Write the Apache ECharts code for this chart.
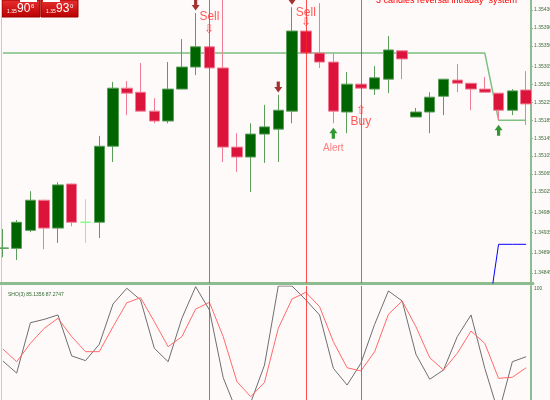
<!DOCTYPE html>
<html>
<head>
<meta charset="utf-8">
<script src="https://cdn.jsdelivr.net/npm/echarts@6/dist/echarts.min.js"></script>
<style>
  html, body { margin: 0; padding: 0; background: #fffafa; }
  #chart { width: 550px; height: 400px; }
</style>
</head>
<body>
<div id="chart"></div>
<script>
// bars (oldest -> newest), prices
const categories = ["1","2","3","4","5","6","7","8","9","10","11","12","13","14","15","16","17","18","19","20",
  "21","22","23","24","25","26","27","28","29","30","31","32","33","34","35","36","37","38","39"];
const opens = [1.34900, 1.34900, 1.34940, 1.35007, 1.34945, 1.35043, 1.34958, 1.34958, 1.35127, 1.35256,
  1.35247, 1.35205, 1.35183, 1.35254, 1.35303, 1.35348, 1.35301, 1.35125, 1.35103, 1.35154,
  1.35165, 1.35205, 1.35383, 1.35334, 1.35314, 1.35203, 1.35265, 1.35254, 1.35276, 1.35339,
  1.35192, 1.35203, 1.35238, 1.35274, 1.35267, 1.35254, 1.35245, 1.35207, 1.35252];
const closes = [1.34901, 1.34958, 1.35007, 1.34945, 1.35041, 1.34958, 1.34958, 1.35127, 1.35256, 1.35245,
  1.35205, 1.35183, 1.35254, 1.35303, 1.35348, 1.35301, 1.35125, 1.35103, 1.35154, 1.35170,
  1.35207, 1.35383, 1.35334, 1.35314, 1.35205, 1.35265, 1.35256, 1.35279, 1.35341, 1.35321,
  1.35203, 1.35236, 1.35276, 1.35267, 1.35254, 1.35247, 1.35207, 1.35250, 1.35221];
const lows = [1.34880, 1.34874, 1.34936, 1.34898, 1.34912, 1.34949, 1.34912, 1.34923, 1.35092, 1.35196,
  1.35205, 1.35178, 1.35178, 1.35254, 1.35285, 1.35301, 1.35092, 1.35070, 1.35025, 1.35090,
  1.35092, 1.35178, 1.35334, 1.35301, 1.35178, 1.35156, 1.35256, 1.35241, 1.35245, 1.35276,
  1.35192, 1.35156, 1.35196, 1.35247, 1.35207, 1.35247, 1.35185, 1.35196, 1.35174];
const highs = [1.34943, 1.34963, 1.35027, 1.35008, 1.35047, 1.35044, 1.35009, 1.35150, 1.35270, 1.35272,
  1.35312, 1.35234, 1.35314, 1.35365, 1.35423, 1.35348, 1.35460, 1.35156, 1.35178, 1.35219,
  1.35241, 1.35436, 1.35383, 1.35445, 1.35334, 1.35292, 1.35265, 1.35305, 1.35372, 1.35339,
  1.35212, 1.35247, 1.35276, 1.35310, 1.35267, 1.35281, 1.35245, 1.35254, 1.35294];

// level lines
const levelGreen = [1.35334, 1.35334, 1.35334, 1.35334, 1.35334, 1.35334, 1.35334, 1.35334, 1.35334, 1.35334,
  1.35334, 1.35334, 1.35334, 1.35334, 1.35334, 1.35334, 1.35334, 1.35334, 1.35334, 1.35334,
  1.35334, 1.35334, 1.35334, 1.35334, 1.35334, 1.35334, 1.35334, 1.35334, 1.35334, 1.35334,
  1.35334, 1.35334, 1.35334, 1.35334, 1.35334, 1.35334, 1.35185, 1.35185, 1.35185];
const levelBlue = [null, null, null, null, null, null, null, null, null, null,
  null, null, null, null, null, null, null, null, null, null,
  null, null, null, null, null, null, null, null, null, null,
  null, null, null, null, null, 1.34700, 1.34909, 1.34909, 1.34909];

// stochastic window
const stochMain = [44, 35, 72.6, 75.1, 78.4, 47.8, 44.3, 56.5, 86.6, 98.3,
  89.6, 53.5, 43.5, 75.9, 99.5, 82.1, 31.6, 6, 13, 41,
  100, 100, 89.6, 78.4, 38.6, 26.1, 42.3, 71.4, 96.3, 88.8,
  49, 30.4, 37.3, 62.2, 78.4, 38.6, 5, 43.5, 47.2];
const stochSignal = [53, 43.5, 57.2, 68.4, 75.9, 62.2, 51, 51, 69.6, 87.5,
  91.3, 73.4, 54.7, 62.2, 82.8, 87.8, 62.2, 28.6, 17.4, 28.1,
  68.4, 90.3, 95.3, 84.6, 58.4, 39, 36.6, 51, 78.9, 88.8,
  69.6, 46.5, 37.3, 49.8, 66.4, 57.2, 31.1, 31.9, 39];

// tick labels
const priceTicks = [1.34845, 1.34890, 1.34935, 1.34980, 1.35025, 1.35065, 1.35105, 1.35145,
  1.35185, 1.35225, 1.35265, 1.35305, 1.35350, 1.35390, 1.35430];
const stochTicks = [100];

// signals
const downArrowBars = [14, 20, 21];
const upArrowBars = [24, 36];
const signalLineBars = [15, 22, 26];
const signalTextBars = [15, 15, 22, 22, 26, 26];
const signalTextPrices = [1.35414, 1.35385, 1.35423, 1.35401, 1.35181, 1.35207];
const signalTexts = ["Sell", "\u21e9", "Sell", "\u21e9", "Buy", "\u21e7"];
const alertBars = [24];
const alertPrices = [1.35123];

const chart = echarts.init(document.getElementById("chart"), null, { renderer: "canvas" });

const FONT = "Liberation Sans, Arial, sans-serif";
const AXIS_GREEN = "#8fbc8f";

const candleData = opens.map((o, i) => {
  const item = { value: [o, closes[i], lows[i], highs[i]] };
  if (i === 6) {
    item.itemStyle = { color: "#7fff7f", borderColor: "#7fff7f", borderColor0: "#7fff7f", borderColorDoji: "#7fff7f" };
  }
  return item;
});

const arrowPath = "path://M3,0 L7,0 L7,6 L10,6 L5,12 L0,6 L3,6 Z";

const vLines = signalLineBars.map((b) => ({ xAxis: b }));

const option = {
  backgroundColor: "#fffafa",
  animation: false,
  title: [
    {
      text: "3 candles reversal intraday  system",
      left: 371,
      top: -9,
      textStyle: { color: "#ff0000", fontSize: 9, fontWeight: "normal", fontFamily: FONT },
    },
    {
      text: "SHO(3) 85.1356 87.2747",
      left: 3,
      top: 287,
      textStyle: { color: "#2e6b2e", fontSize: 5, fontWeight: "normal", fontFamily: FONT },
    },
  ],
  grid: [
    { left: -4, width: 537, top: 0, height: 283, outerBoundsMode: "none", containLabel: false },
    { left: -4, width: 537, top: 286, height: 134, outerBoundsMode: "none", containLabel: false },
  ],
  xAxis: [
    {
      type: "category",
      gridIndex: 0,
      data: categories,
      boundaryGap: true,
      axisLine: { show: true, lineStyle: { color: AXIS_GREEN, width: 3 } },
      axisTick: { show: false },
      axisLabel: { show: false },
      splitLine: { show: false },
    },
    {
      type: "category",
      gridIndex: 1,
      data: categories,
      boundaryGap: true,
      axisLine: { show: false },
      axisTick: { show: false },
      axisLabel: { show: false },
      splitLine: { show: false },
    },
  ],
  yAxis: [
    {
      type: "value",
      gridIndex: 0,
      position: "right",
      offset: -2,
      min: 1.34823,
      max: 1.35452,
      axisLine: { show: true, lineStyle: { color: AXIS_GREEN, width: 2 } },
      axisTick: { show: true, length: 2, lineStyle: { color: AXIS_GREEN }, customValues: priceTicks },
      axisLabel: {
        show: true,
        customValues: priceTicks,
        formatter: (v) => v.toFixed(5),
        fontSize: 5,
        color: "#3c6e3c",
        margin: 3,
        fontFamily: FONT,
      },
      splitLine: { show: false },
    },
    {
      type: "value",
      gridIndex: 1,
      position: "right",
      offset: -2,
      min: 0,
      max: 100,
      axisLine: { show: true, lineStyle: { color: AXIS_GREEN, width: 2 } },
      axisTick: { show: false },
      axisLabel: {
        show: true,
        customValues: stochTicks,
        fontSize: 5,
        color: "#3c6e3c",
        margin: 3,
        verticalAlign: "top",
        fontFamily: FONT,
      },
      splitLine: { show: false },
    },
    {
      type: "value",
      gridIndex: 0,
      position: "left",
      offset: -5,
      min: 1.34823,
      max: 1.35452,
      axisLine: { show: true, lineStyle: { color: "#b5d8b5", width: 1 } },
      axisTick: { show: false },
      axisLabel: { show: false },
      splitLine: { show: false },
    },
    {
      type: "value",
      gridIndex: 1,
      position: "left",
      offset: -5,
      min: 0,
      max: 100,
      axisLine: { show: true, lineStyle: { color: "#b5d8b5", width: 1 } },
      axisTick: { show: false },
      axisLabel: { show: false },
      splitLine: { show: false },
    },
  ],
  series: [
    {
      name: "Green level",
      type: "line",
      xAxisIndex: 0,
      yAxisIndex: 0,
      data: levelGreen,
      symbol: "none",
      lineStyle: { color: "#7fbf7f", width: 1.5 },
      z: 1,
    },
    {
      name: "Blue level",
      type: "line",
      xAxisIndex: 0,
      yAxisIndex: 0,
      data: levelBlue,
      symbol: "none",
      clip: true,
      lineStyle: { color: "#0000ff", width: 1 },
      z: 1,
    },
    {
      name: "Price",
      type: "candlestick",
      xAxisIndex: 0,
      yAxisIndex: 0,
      data: candleData,
      barWidth: 11,
      clip: true,
      itemStyle: {
        color: "#006400",
        color0: "#dc143c",
        borderColor: "#5a9e5a",
        borderColor0: "#f07d95",
        borderColorDoji: "#006400",
        borderWidth: 1,
      },
      markLine: {
        silent: true,
        symbol: "none",
        label: { show: false },
        lineStyle: { color: "#ff2020", width: 1, type: "solid", opacity: 0.8 },
        data: vLines,
      },
      z: 2,
    },
    {
      name: "Down arrows",
      type: "scatter",
      xAxisIndex: 0,
      yAxisIndex: 0,
      data: downArrowBars.map((b) => [b, highs[b]]),
      symbol: arrowPath,
      symbolSize: [8, 11],
      symbolOffset: [0, -8],
      itemStyle: { color: "#8b0000" },
      z: 5,
    },
    {
      name: "Up arrows",
      type: "scatter",
      xAxisIndex: 0,
      yAxisIndex: 0,
      data: upArrowBars.map((b) => [b, lows[b]]),
      symbol: arrowPath,
      symbolRotate: 180,
      symbolSize: [8, 11],
      symbolOffset: [0, 10],
      itemStyle: { color: "#008000" },
      z: 5,
    },
    {
      name: "Signal text",
      type: "scatter",
      xAxisIndex: 0,
      yAxisIndex: 0,
      data: signalTextBars.map((b, i) => ({ value: [b, signalTextPrices[i]], name: signalTexts[i] })),
      symbol: "circle",
      symbolSize: 1,
      itemStyle: { color: "rgba(0,0,0,0)" },
      label: {
        show: true,
        position: "inside",
        formatter: (p) => p.name,
        color: "#ff3030",
        fontSize: 12,
        fontFamily: FONT,
      },
      z: 6,
    },
    {
      name: "Alert text",
      type: "scatter",
      xAxisIndex: 0,
      yAxisIndex: 0,
      data: alertBars.map((b, i) => ({ value: [b, alertPrices[i]], name: "Alert" })),
      symbol: "circle",
      symbolSize: 1,
      itemStyle: { color: "rgba(0,0,0,0)" },
      label: {
        show: true,
        position: "inside",
        formatter: (p) => p.name,
        color: "#ff5a5a",
        fontSize: 10,
        fontFamily: FONT,
      },
      z: 6,
    },
    {
      name: "Main",
      type: "line",
      xAxisIndex: 1,
      yAxisIndex: 1,
      data: stochMain,
      symbol: "none",
      lineStyle: { color: "#6e6e6e", width: 1 },
      markLine: {
        silent: true,
        symbol: "none",
        label: { show: false },
        lineStyle: { color: "#ff2020", width: 1, type: "solid", opacity: 0.8 },
        data: vLines,
      },
    },
    {
      name: "Signal",
      type: "line",
      xAxisIndex: 1,
      yAxisIndex: 1,
      data: stochSignal,
      symbol: "none",
      lineStyle: { color: "#ff6a6a", width: 1 },
    },
  ],
  graphic: [
    {
      type: "rect",
      shape: { x: 2, y: 0, width: 38, height: 17 },
      style: {
        fill: new echarts.graphic.LinearGradient(0, 0, 0, 1, [
          { offset: 0, color: "#e83030" },
          { offset: 1, color: "#b80000" },
        ]),
        stroke: "#a00000",
      },
    },
    {
      type: "rect",
      shape: { x: 41, y: 0, width: 37, height: 17 },
      style: {
        fill: new echarts.graphic.LinearGradient(0, 0, 0, 1, [
          { offset: 0, color: "#e83030" },
          { offset: 1, color: "#b80000" },
        ]),
        stroke: "#a00000",
      },
    },
    { type: "rect", shape: { x: 20, y: 0, width: 17, height: 2 }, style: { fill: "#ffffff" } },
    { type: "rect", shape: { x: 43, y: 0, width: 17, height: 2 }, style: { fill: "#ffffff" } },
    { type: "text", x: 7, y: 9, style: { text: "1.35", fill: "#fff", font: "5px " + FONT } },
    { type: "text", x: 17, y: 3, style: { text: "90", fill: "#fff", font: "12px " + FONT } },
    { type: "text", x: 31, y: 3, style: { text: "6", fill: "#fff", font: "6px " + FONT } },
    { type: "text", x: 46, y: 9, style: { text: "1.35", fill: "#fff", font: "5px " + FONT } },
    { type: "text", x: 56, y: 3, style: { text: "93", fill: "#fff", font: "12px " + FONT } },
    { type: "text", x: 70, y: 3, style: { text: "0", fill: "#fff", font: "6px " + FONT } },
  ],
};

chart.setOption(option);
window.addEventListener("resize", () => chart.resize());
</script>
</body>
</html>
